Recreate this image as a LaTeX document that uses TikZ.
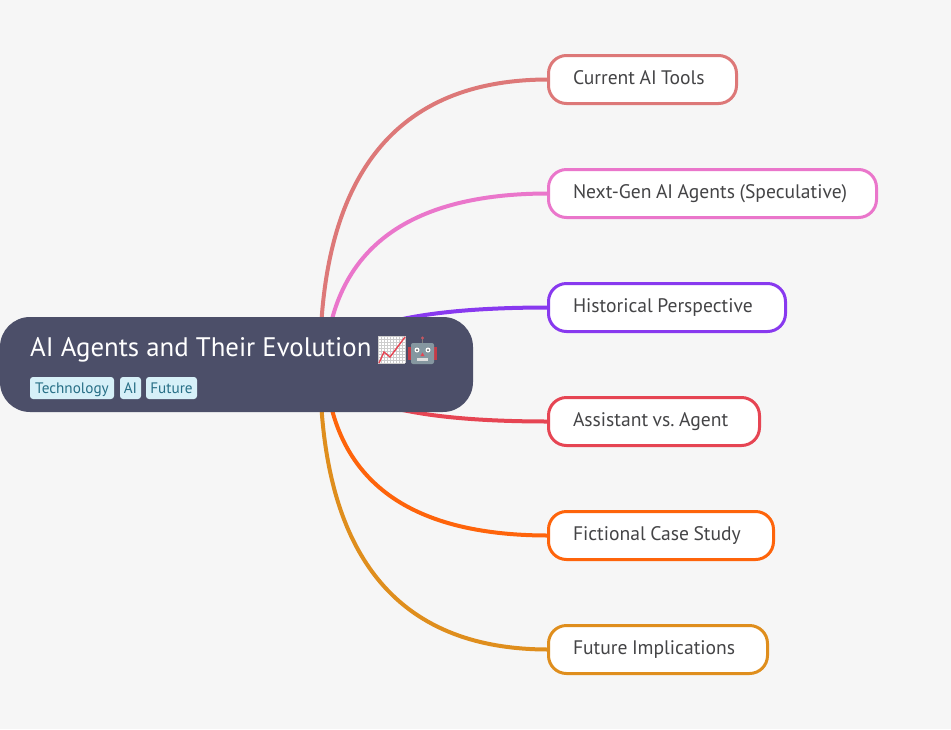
\documentclass[tikz,border=0pt]{standalone}
\usepackage{fontspec}
\setmainfont{PT Sans}
\usetikzlibrary{positioning,backgrounds,calc}
\definecolor{pagebg}{HTML}{F6F6F6}
\definecolor{rootbg}{HTML}{4C4F69}
\definecolor{topictext}{HTML}{444446}
\definecolor{tagbg}{HTML}{D6F0F8}
\definecolor{tagtext}{HTML}{276F86}
\definecolor{toolsred}{HTML}{DD7878}
\definecolor{nextpink}{HTML}{EA76CB}
\definecolor{histpurple}{HTML}{8839EF}
\definecolor{agentred}{HTML}{E64553}
\definecolor{caseorange}{HTML}{FE640B}
\definecolor{futureamber}{HTML}{DF8E1D}
\tikzset{
  topic/.style={draw=#1,line width=3pt,fill=white,rounded corners=18pt,anchor=west,
    minimum height=48pt,inner xsep=24.5pt,inner ysep=0pt,outer sep=0pt,
    execute at begin node={\spaceskip=0.23em\relax\xspaceskip=0.23em\relax\hyphenpenalty=10000\relax},
    text height=14pt,text depth=5pt,text=topictext,font=\fontsize{19.6}{24}\selectfont},
  tag/.style={fill=tagbg,text=tagtext,rounded corners=3pt,inner xsep=0pt,inner ysep=0pt,
    minimum height=22pt,outer sep=0pt,text height=13.5pt,text depth=2.5pt,
    font=\fontsize{15.2}{18}\selectfont},
  branch/.style={draw=#1,line width=4pt},
}
\newcommand{\branchto}[4]{%
  \coordinate (bend) at ($(#3|-#2.west)+(#4,0)$);
  \draw[branch=#1] (#3) .. controls ($(#3)!2/3!(bend)$) and ($(#2.west)!2/3!(bend)$) .. (#2.west);}
\begin{document}
\begin{tikzpicture}[x=1pt,y=-1pt]
  \useasboundingbox (0,0) rectangle (951,729);
  \node[fill=rootbg,rounded corners=30pt,minimum width=473pt,minimum height=95pt,inner sep=0pt] (root) at (236.5,364.5) {};
  \coordinate (hub) at (320,364.5);
  \coordinate (innerhub) at (325,364.5);
  \node[anchor=base west,text=white,inner sep=0pt,font=\fontsize{26.8}{32}\selectfont] (title) at (30,356) {AI Agents and Their Evolution};
  \node[tag,anchor=west,minimum width=84pt] (technology) at (30,388) {Technology};
  \node[tag,minimum width=21pt,right=6pt of technology] (ai) {AI};
  \node[tag,minimum width=51pt,right=5pt of ai] (future) {Future};
  \node[topic=toolsred,text width=139pt] (tools) at (548.5,79.5) {Current AI Tools};
  \node[topic=nextpink,text width=279pt] (next) at (548.5,193.5) {Next-Gen AI Agents (Speculative)};
  \node[topic=histpurple,text width=188pt] (history) at (548.5,307.5) {Historical Perspective};
  \node[topic=agentred,text width=162pt] (versus) at (548.5,421.5) {Assistant vs. Agent};
  \node[topic=caseorange,text width=176pt] (fiction) at (548.5,535.5) {Fictional Case Study};
  \node[topic=futureamber,text width=170pt] (implications) at (548.5,649.5) {Future Implications};
  \begin{scope}[on background layer]
    \fill[pagebg] (0,0) rectangle (951,729);
    \branchto{toolsred}{tools}{hub}{0}
    \branchto{nextpink}{next}{innerhub}{10}
    \branchto{histpurple}{history}{innerhub}{20}
    \branchto{agentred}{versus}{innerhub}{20}
    \branchto{caseorange}{fiction}{innerhub}{10}
    \branchto{futureamber}{implications}{hub}{0}
  \end{scope}
  \fill[white] (378,336) rectangle (405,363);
  \foreach \i in {0,3,...,27} {
    \draw[black!20,line width=0.4pt] (378+\i,336) -- (378+\i,363);
    \draw[black!20,line width=0.4pt] (378,336+\i) -- (405,336+\i);
  }
  \draw[agentred,line width=1.4pt] (379,363) -- (384,352) -- (390,357) -- (405,337);
  \fill[agentred!85!black] (408,347) rectangle (436.5,360);
  \draw[gray,line width=1pt] (422.5,338) -- (422.5,344);
  \fill[agentred!70!gray] (422.5,338) circle (1.6pt);
  \fill[black!5!gray!70!cyan!60!gray,rounded corners=2pt] (411,343) rectangle (434,364);
  \fill[white] (417,350) circle (2.5pt) (428,350) circle (2.5pt);
  \fill[black!70] (417,350) circle (1pt) (428,350) circle (1pt);
  \fill[agentred] (420.5,356) -- (424.5,356) -- (422.5,352.5) -- cycle;
  \fill[white!75!gray] (417,357.5) rectangle (428,360.5);
\end{tikzpicture}
\end{document}
